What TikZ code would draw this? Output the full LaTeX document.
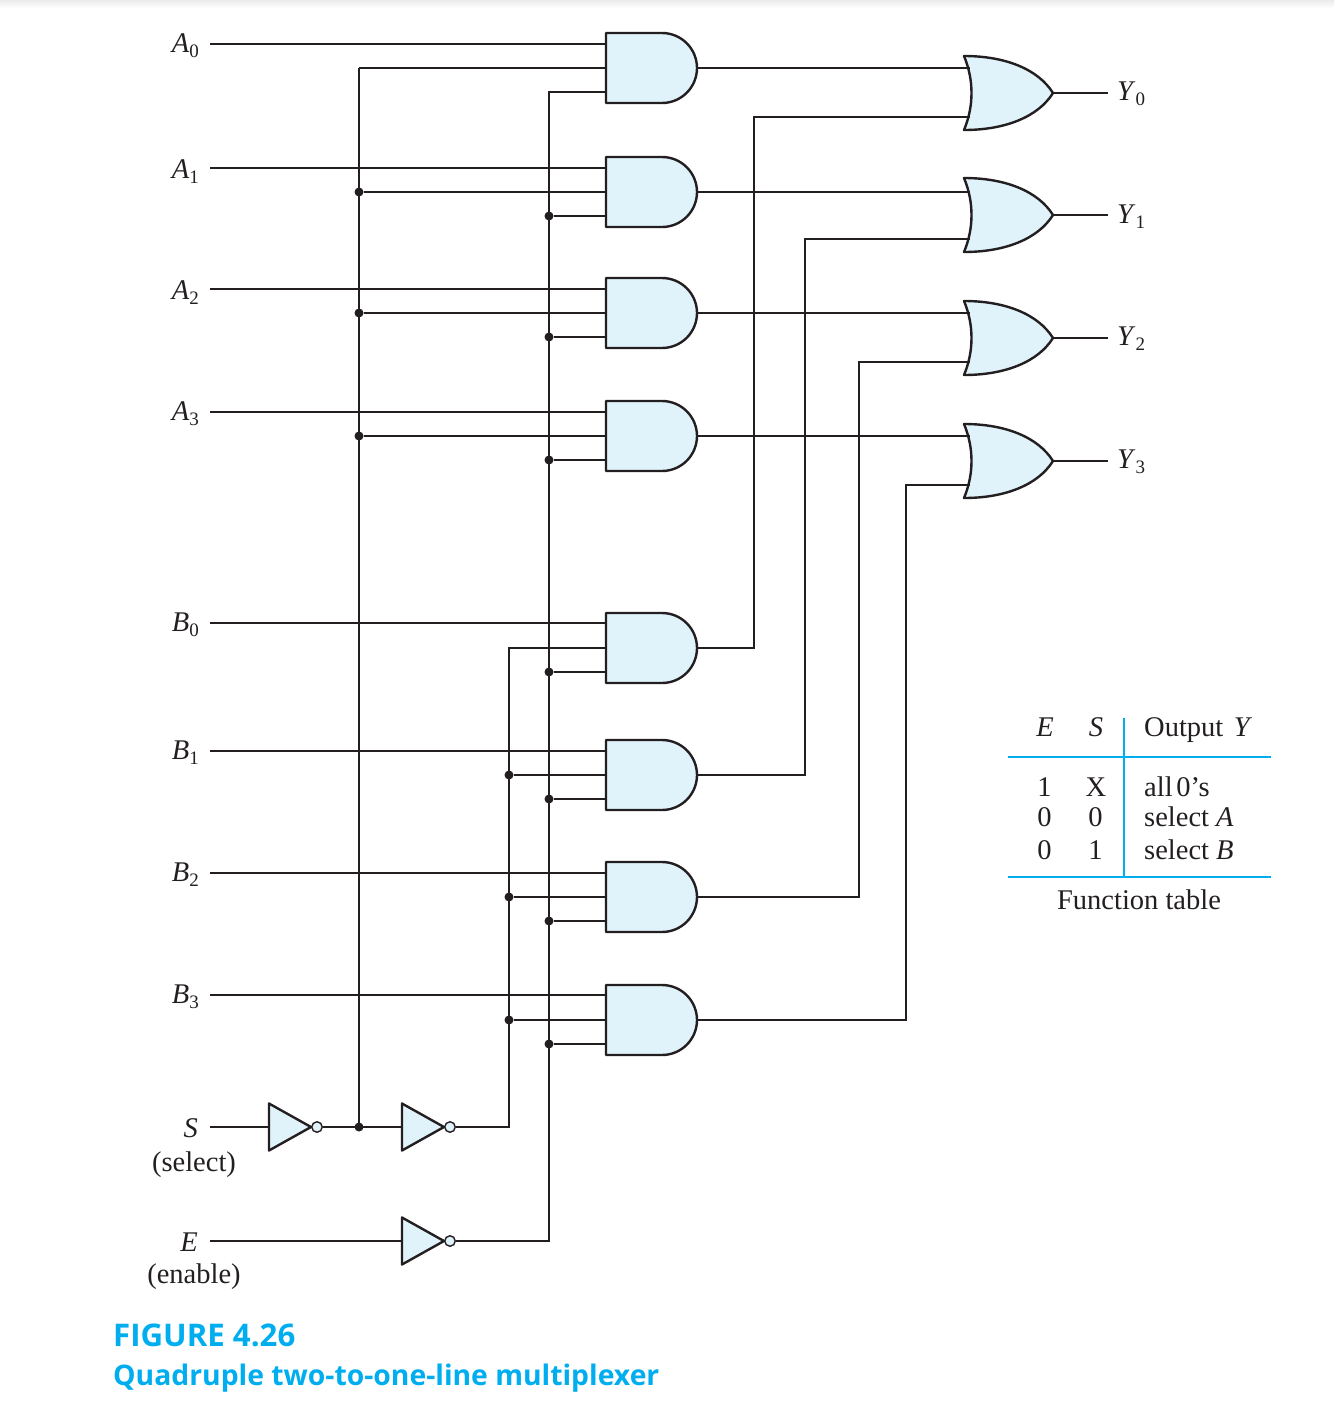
\documentclass[tikz,border=0pt]{standalone}
\usepackage{fontspec}
\setmainfont{Liberation Serif}
\newfontfamily\capfont{Open Sans}
\definecolor{ink}{HTML}{231F20}
\definecolor{gatefill}{HTML}{E0F2FA}
\definecolor{cyanline}{HTML}{00AEEF}
\newcommand{\lblsub}[2]{\textit{#1}\raisebox{-0.2em}{\fontsize{19}{19}\selectfont #2}}
\tikzset{
  wire/.style={draw=ink,line width=1.6pt},
  gateshape/.style={draw=ink,fill=gatefill,line width=2.4pt,line join=round},
  bubble/.style={circle,draw=ink,fill=gatefill,line width=1.4pt,inner sep=0pt,minimum size=10.5pt},
  dot/.style={circle,fill=ink,inner sep=0pt,minimum size=9pt},
  lbl/.style={font=\fontsize{28.5}{28.5}\selectfont,text=ink,inner sep=0pt},
  inlbl/.style={lbl,anchor=base east},
  tblline/.style={draw=cyanline,line width=2pt},
  captext/.style={text=cyanline,anchor=base west,inner sep=0pt}
}
% AND gate: name, centre y
\newcommand{\andgate}[2]{%
  \draw[gateshape] (606,#2-35) -- (662,#2-35) arc[start angle=-90,end angle=90,radius=35] -- (606,#2+35) -- cycle;
  \coordinate (#1-i1) at (606,#2-24);
  \coordinate (#1-i2) at (606,#2);
  \coordinate (#1-i3) at (606,#2+24);
  \coordinate (#1-o) at (697,#2);
}
% OR gate: name, centre y
\newcommand{\orgate}[2]{%
  \draw[gateshape] (964,#2-37) .. controls (1005,#2-37) and (1038,#2-24) .. (1053,#2)
     .. controls (1038,#2+24) and (1005,#2+37) .. (964,#2+37)
     .. controls (974,#2+13) and (974,#2-13) .. (964,#2-37) -- cycle;
  \coordinate (#1-i1) at (970,#2-24);
  \coordinate (#1-i2) at (970,#2+24);
  \coordinate (#1-o) at (1053,#2);
}
% inverter: name, left x, centre y
\newcommand{\invgate}[3]{%
  \draw[gateshape] (#2,#3-23.5) -- (#2+42,#3) -- (#2,#3+23.5) -- cycle;
  \node[bubble] (#1-b) at (#2+48,#3) {};
  \coordinate (#1-i) at (#2,#3);
  \coordinate (#1-o) at (#2+54,#3);
}
\begin{document}
\begin{tikzpicture}[x=1pt,y=-1pt]
\useasboundingbox (0,0) rectangle (1334,1408);
\shade[top color=black!8,bottom color=white,draw=none] (0,0) rectangle (1334,8);
% gates
\andgate{a0}{68}
\andgate{a1}{192}
\andgate{a2}{313}
\andgate{a3}{436}
\andgate{b0}{648}
\andgate{b1}{775}
\andgate{b2}{897}
\andgate{b3}{1020}
\orgate{or0}{93}
\orgate{or1}{215}
\orgate{or2}{338}
\orgate{or3}{461}
\invgate{invs}{269}{1127}
\invgate{invt}{402}{1127}
\invgate{inve}{402}{1241}
% input labels
\node[inlbl] (lA0) at (199,52) {\lblsub{A}{0}};
\node[inlbl] (lA1) at (199,178) {\lblsub{A}{1}};
\node[inlbl] (lA2) at (199,299) {\lblsub{A}{2}};
\node[inlbl] (lA3) at (199,420) {\lblsub{A}{3}};
\node[inlbl] (lB0) at (199,631) {\lblsub{B}{0}};
\node[inlbl] (lB1) at (199,759) {\lblsub{B}{1}};
\node[inlbl] (lB2) at (199,881) {\lblsub{B}{2}};
\node[inlbl] (lB3) at (199,1003) {\lblsub{B}{3}};
\node[inlbl] (lS) at (198,1137) {\textit{S}};
\node[inlbl] (lE) at (198,1251) {\textit{E}};
\node[lbl,anchor=base] (lsel) at (194,1171) {(select)};
\node[lbl,anchor=base] (lena) at (194,1283) {(enable)};
% input start points
\coordinate (sA0) at (210,44);
\coordinate (sA1) at (210,168);
\coordinate (sA2) at (210,289);
\coordinate (sA3) at (210,412);
\coordinate (sB0) at (210,623);
\coordinate (sB1) at (210,751);
\coordinate (sB2) at (210,873);
\coordinate (sB3) at (210,995);
\coordinate (sS) at (210,1127);
\coordinate (sE) at (210,1241);
\draw[wire] (sA0) -- (sA0 -| a0-i1);
\draw[wire] (sA1) -- (sA1 -| a1-i1);
\draw[wire] (sA2) -- (sA2 -| a2-i1);
\draw[wire] (sA3) -- (sA3 -| a3-i1);
\draw[wire] (sB0) -- (sB0 -| b0-i1);
\draw[wire] (sB1) -- (sB1 -| b1-i1);
\draw[wire] (sB2) -- (sB2 -| b2-i1);
\draw[wire] (sB3) -- (sB3 -| b3-i1);
\draw[wire] (sS) -- (invs-i);
\draw[wire] (sE) -- (inve-i);
% junctions
\node[dot] (js1) at (359,192) {};
\node[dot] (js2) at (359,313) {};
\node[dot] (js3) at (359,436) {};
\node[dot] (js4) at (359,1127) {};
\node[dot] (jt1) at (509,775) {};
\node[dot] (jt2) at (509,897) {};
\node[dot] (jt3) at (509,1020) {};
\node[dot] (je1) at (549,216) {};
\node[dot] (je2) at (549,337) {};
\node[dot] (je3) at (549,460) {};
\node[dot] (je4) at (549,672) {};
\node[dot] (je5) at (549,799) {};
\node[dot] (je6) at (549,921) {};
\node[dot] (je7) at (549,1044) {};
% bus tops and elbows
\coordinate (stop) at (359,68);
\coordinate (etop) at (549,92);
\coordinate (ttop) at (509,648);
\coordinate (ebot) at (549,1241);
\coordinate (tbot) at (509,1127);
% S bus
\draw[wire] (stop) -- (js1.center) -- (js2.center) -- (js3.center) -- (js4.center);
\draw[wire] (invs-o) -- (js4.center) -- (invt-i);
\draw[wire] (stop) -- (a0-i2);
\draw[wire] (js1) -- (a1-i2);
\draw[wire] (js2) -- (a2-i2);
\draw[wire] (js3) -- (a3-i2);
% S' bus
\draw[wire] (invt-o) -- (tbot) -- (jt3.center) -- (jt2.center) -- (jt1.center) -- (ttop) -- (b0-i2);
\draw[wire] (jt1) -- (b1-i2);
\draw[wire] (jt2) -- (b2-i2);
\draw[wire] (jt3) -- (b3-i2);
% E' bus
\draw[wire] (inve-o) -- (ebot) -- (je7.center) -- (je6.center) -- (je5.center) -- (je4.center) -- (je3.center) -- (je2.center) -- (je1.center) -- (etop) -- (a0-i3);
\draw[wire] (je1) -- (a1-i3);
\draw[wire] (je2) -- (a2-i3);
\draw[wire] (je3) -- (a3-i3);
\draw[wire] (je4) -- (b0-i3);
\draw[wire] (je5) -- (b1-i3);
\draw[wire] (je6) -- (b2-i3);
\draw[wire] (je7) -- (b3-i3);
% AND outputs to OR gates
\draw[wire] (a0-o) -- (a0-o -| or0-i1);
\draw[wire] (a1-o) -- (a1-o -| or1-i1);
\draw[wire] (a2-o) -- (a2-o -| or2-i1);
\draw[wire] (a3-o) -- (a3-o -| or3-i1);
\coordinate (c0) at (754,0);
\coordinate (c1) at (805,0);
\coordinate (c2) at (859,0);
\coordinate (c3) at (906,0);
\draw[wire] (b0-o) -- (b0-o -| c0) -- (c0 |- or0-i2) -- (or0-i2);
\draw[wire] (b1-o) -- (b1-o -| c1) -- (c1 |- or1-i2) -- (or1-i2);
\draw[wire] (b2-o) -- (b2-o -| c2) -- (c2 |- or2-i2) -- (or2-i2);
\draw[wire] (b3-o) -- (b3-o -| c3) -- (c3 |- or3-i2) -- (or3-i2);
% outputs
\coordinate (e0) at (1108,93);
\coordinate (e1) at (1108,215);
\coordinate (e2) at (1108,338);
\coordinate (e3) at (1108,461);
\draw[wire] (or0-o) -- (e0);
\draw[wire] (or1-o) -- (e1);
\draw[wire] (or2-o) -- (e2);
\draw[wire] (or3-o) -- (e3);
\node[lbl,anchor=base west] (lY0) at (1117,100) {\lblsub{Y}{0}};
\node[lbl,anchor=base west] (lY1) at (1117,223) {\lblsub{Y}{1}};
\node[lbl,anchor=base west] (lY2) at (1117,345) {\lblsub{Y}{2}};
\node[lbl,anchor=base west] (lY3) at (1117,468) {\lblsub{Y}{3}};
% function table
\coordinate (tl1) at (1008,757);
\coordinate (tr1) at (1271,757);
\coordinate (tl2) at (1008,877);
\coordinate (tr2) at (1271,877);
\coordinate (vt) at (1124,718);
\draw[tblline] (tl1) -- (tr1);
\draw[tblline] (tl2) -- (tr2);
\draw[tblline] (vt) -- (vt |- tl2);
\node[lbl,anchor=base] (tE) at (1045,736) {\textit{E}};
\node[lbl,anchor=base] (tS) at (1096,736) {\textit{S}};
\node[lbl,anchor=base west] (tO) at (1144,736) {Output\hspace{0.12em} \textit{Y}};
\node[lbl,anchor=base] (t11) at (1044.5,796) {1};
\node[lbl,anchor=base] (t12) at (1096,796) {X};
\node[lbl,anchor=base west] (t13) at (1144,796) {all\hspace{-0.12em} 0’s};
\node[lbl,anchor=base] (t21) at (1044.5,826) {0};
\node[lbl,anchor=base] (t22) at (1095.5,826) {0};
\node[lbl,anchor=base west] (t23) at (1144,826) {select \textit{A}};
\node[lbl,anchor=base] (t31) at (1044.5,859) {0};
\node[lbl,anchor=base] (t32) at (1095.5,859) {1};
\node[lbl,anchor=base west] (t33) at (1144,859) {select \textit{B}};
\node[lbl,anchor=base] (tcap) at (1139,909) {Function table};
% caption
\node[captext,font=\capfont\bfseries\fontsize{31.2}{31}\selectfont] (cap1) at (113,1346) {FIGURE 4.26};
\node[captext,font=\capfont\bfseries\fontsize{28.3}{28}\selectfont] (cap2) at (113,1385) {Quadruple two-to-one-line multiplexer};
\end{tikzpicture}
\end{document}
